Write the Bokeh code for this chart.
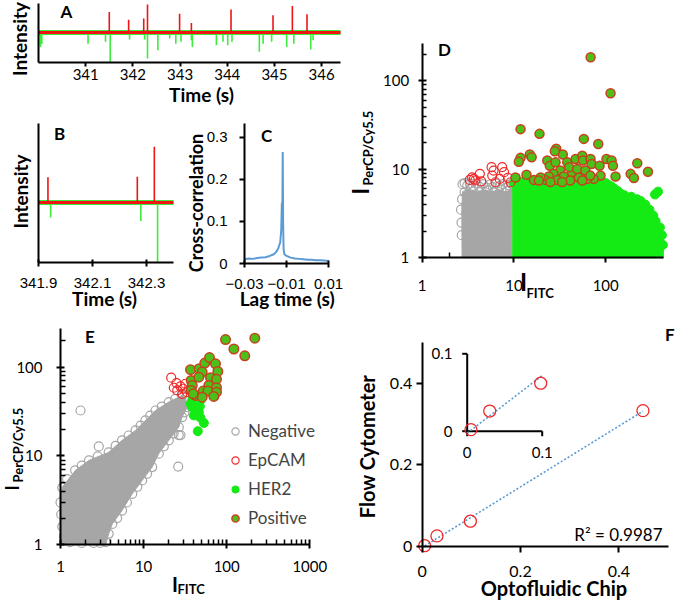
import math
import numpy as np
from bokeh.plotting import figure
from bokeh.models import (Range1d, FixedTicker, Label, Legend, LegendItem,
                          BasicTickFormatter, LinearAxis, LogAxis, LogScale, LinearScale)
from bokeh.embed import file_html
from bokeh.resources import INLINE

# ======================= DATA =======================
# Panel A : time trace (s), spike heights in relative intensity units
a_span = [340.0, 346.4]
a_red_t = [341.50, 341.91, 342.23, 342.31, 342.99, 343.24, 344.08, 344.97, 345.38, 345.69]
a_red_h = [0.69, 0.43, 0.47, 0.94, 0.63, 0.32, 0.77, 0.58, 0.89, 0.61]
a_green_t = [340.04, 340.07, 341.05, 341.42, 341.52, 341.93, 342.25, 342.31, 342.53, 342.78,
             342.91, 343.02, 343.24, 343.26, 343.77, 343.91, 344.01, 344.10, 344.68, 344.76,
             344.94, 345.26, 345.41, 345.77, 345.82]
a_green_d = [0.48, 0.38, 0.37, 0.31, 1.00, 0.23, 0.23, 0.87, 0.59, 0.20,
             0.37, 0.31, 0.26, 0.48, 0.42, 0.31, 0.42, 0.31, 0.64, 0.37,
             0.31, 0.48, 0.37, 0.57, 0.26]
a_xticks = [341, 342, 343, 344, 345, 346]

# Panel B : zoomed trace
b_span = [341.9, 342.4]
b_red_t = [341.935, 342.266, 342.329]
b_red_h = [0.42, 0.43, 0.93]
b_green_t = [341.945, 342.279, 342.341]
b_green_d = [0.25, 0.31, 1.00]
b_xticks = [341.9, 342.1, 342.3]

# Panel C : cross-correlation vs lag time
c_lag = [-0.030, -0.028, -0.026, -0.024, -0.022, -0.020, -0.018, -0.016, -0.015, -0.014,
         -0.013, -0.0125, -0.0122, -0.0120, -0.0118, -0.0116, -0.0114, -0.0110, -0.010, -0.008,
         -0.006, -0.004, -0.002, 0.000, 0.002, 0.004, 0.006, 0.008, 0.010]
c_corr = [0.010, 0.012, 0.011, 0.013, 0.014, 0.015, 0.018, 0.022, 0.027, 0.035,
          0.050, 0.080, 0.145, 0.110, 0.265, 0.100, 0.035, 0.022, 0.018, 0.014,
          0.012, 0.011, 0.010, 0.009, 0.009, 0.008, 0.008, 0.007, 0.006]
c_xticks = [-0.03, -0.01, 0.01]
c_yticks = [0, 0.1, 0.2, 0.3]

# Log ticks shared by D and E
log_major = [1, 10, 100]
log_major_e = [1, 10, 100, 1000]
log_minor = [2, 3, 4, 5, 6, 7, 8, 9, 20, 30, 40, 50, 60, 70, 80, 90,
             200, 300, 400, 500, 600, 700, 800, 900]
d_xminor = [2]

# Panel D : I_FITC vs I_PerCP/Cy5.5 (chip)
d_neg_patch_x = [2.72, 2.70, 2.75, 3.2, 4.0, 5.0, 6.0, 7.0, 8.0, 9.5, 9.5]
d_neg_patch_y = [1.0, 3.5, 5.6, 5.9, 5.6, 5.8, 5.5, 5.9, 5.6, 5.8, 1.0]
d_neg_edge_x = [2.75, 2.9, 3.1, 3.3, 3.6, 3.9, 4.2, 4.6, 5.0, 5.4, 5.9, 6.4, 7.0, 7.6, 8.2,
                8.8, 9.3, 2.65, 2.68, 2.70, 2.72, 2.9, 3.4, 4.4, 5.2, 6.2, 7.3, 8.5, 9.3, 9.4]
d_neg_edge_y = [6.8, 7.0, 6.6, 6.9, 6.5, 6.9, 6.4, 6.8, 6.2, 6.7, 6.3, 6.9, 6.5, 6.8, 6.2,
                6.6, 6.9, 3.5, 2.5, 1.8, 4.6, 5.5, 6.0, 5.6, 5.8, 5.5, 5.9, 5.7, 5.2, 4.0]
d_her_patch_x = [9.7, 9.7, 20, 40, 70, 92, 110, 125, 146, 180, 220, 260, 300, 340, 380, 410, 425, 425]
d_her_patch_y = [1.0, 6.9, 7.1, 7.1, 7.0, 6.8, 6.4, 5.8, 5.2, 4.9, 4.5, 4.0, 3.4, 2.8, 2.2, 1.7, 1.3, 1.0]
d_her_edge_x = [10, 12, 15, 18, 22, 27, 33, 40, 48, 57, 67, 78, 92, 100, 110, 118, 125, 135, 146, 160,
                190, 220, 240, 270, 300, 330, 350, 390, 410, 420, 372, 345]
d_her_edge_y = [7.0, 7.2, 7.0, 7.3, 7.1, 7.3, 7.0, 7.3, 7.1, 7.2, 7.0, 7.2, 6.9, 7.0, 6.6, 6.3, 6.0, 5.7, 5.3, 5.1,
                4.9, 4.6, 4.4, 4.0, 3.5, 3.0, 2.6, 2.2, 1.8, 1.4, 5.6, 5.2]
d_ep_x = [3.5, 3.66, 4.25, 3.8, 4.4, 5.7, 6.0, 5.8, 7.45, 7.8, 7.0, 8.6, 9.2, 6.3, 3.3]
d_ep_y = [8.1, 7.8, 8.9, 7.5, 7.3, 10.6, 9.7, 8.5, 10.6, 9.3, 7.8, 8.0, 7.15, 7.15, 7.6]
d_pos_x = [11.8, 19.0, 57.8, 83, 28.9, 14.9, 15.6, 11.8, 11.3, 34.1,
           27.9, 23.1, 24.6, 28.4, 38.1, 47.0, 55.6, 56.4, 68.4, 70.2,
           85.8, 102, 116, 120, 221, 187, 289, 203, 128, 88,
           74, 63, 51, 43, 40, 49, 60, 32, 27, 35,
           29.6, 24, 22, 19.5, 16.5, 13.7, 10.4, 18.7, 41, 55.6,
           68, 25, 33.6, 68.5, 113]
d_pos_y = [28.5, 25.2, 22.1, 19.4, 17.1, 14.7, 13.7, 13.5, 12.2, 14.7,
           16.0, 12.6, 11.0, 12.0, 12.0, 13.1, 14.3, 12.6, 13.1, 11.5,
           11.0, 13.1, 12.6, 11.0, 11.7, 8.9, 9.4, 8.0, 8.3, 8.5,
           7.8, 7.8, 8.1, 9.3, 10.6, 10.1, 9.7, 9.7, 8.9, 8.3,
           7.6, 8.3, 7.6, 8.1, 7.6, 8.7, 8.1, 7.5, 7.5, 7.5,
           8.5, 7.2, 7.2, 185, 72.4]

# Panel E : flow cytometer
e_neg_patch_x = [1.0, 1.0, 1.05, 1.51, 2.19, 3.81, 5.52, 8.0, 10.5, 13.9,
                 20.1, 29.1, 32.0, 33.4, 29.1, 26.5, 20.1, 15.2, 12.7, 9.6,
                 7.3, 5.5, 4.2, 3.8, 3.5, 1.26]
e_neg_patch_y = [1.0, 3.0, 4.45, 6.87, 8.9, 11.0, 15.0, 19.4, 25.1, 32.5,
                 40.4, 48.0, 45.0, 35.4, 27.4, 21.1, 15.0, 10.6, 7.5, 5.3,
                 3.75, 2.43, 1.72, 1.33, 1.0, 1.0]
e_neg_edge_x = [1.05, 1.2, 1.5, 1.8, 2.2, 2.8, 3.8, 4.6, 5.5, 6.6, 8.0, 9.2, 10.5, 12.0, 13.9,
                16.5, 20.1, 24.0, 29.1, 32.0,
                33.4, 31.0, 29.1, 26.5, 23.0, 20.1, 17.5, 15.2, 12.7, 11.0, 9.6, 8.4, 7.3, 6.3,
                5.5, 4.8, 4.2, 3.8, 3.5,
                1.0, 1.02, 1.05, 1.1, 1.3, 1.8, 2.5, 3.0,
                1.74, 2.89, 26.1, 27.8, 26.5]
e_neg_edge_y = [4.4, 5.5, 6.9, 7.8, 8.9, 9.9, 11.0, 13.0, 15.0, 17.0, 19.4, 22.0, 25.1, 28.5, 32.5,
                36.0, 40.4, 44.0, 48.0, 45.0,
                35.4, 31.0, 27.4, 21.1, 18.0, 15.0, 12.8, 10.6, 7.5, 6.3, 5.3, 4.5, 3.75, 3.0,
                2.43, 2.0, 1.72, 1.33, 1.07,
                3.0, 2.2, 1.6, 1.25, 1.07, 1.05, 1.05, 1.05,
                32.5, 12.8, 7.6, 17.2, 17.2]
e_ep_x = [21.5, 24.9, 27.8, 25.4, 29.9, 31.9, 23.1, 33.4, 29.1]
e_ep_y = [76, 66, 60.6, 54.7, 57.1, 65, 58.6, 52.3, 50.1]
e_her_x = [38.5, 44.2, 48.4, 42.1, 36.7, 46.2, 40.2, 48.4, 53.1, 44.9, 38.5, 47.5]
e_her_y = [35.4, 34, 42.2, 40.4, 38.7, 31.1, 28.6, 26.9, 23.5, 19, 43, 36.1]
e_pos_x = [96.8, 218, 122, 165, 36.7, 46.7, 54.5, 62.1, 73.3, 78.2,
           50.7, 63.8, 75.4, 60.9, 75.4, 37.4, 38.5, 37.4, 42.1, 52.1,
           59.3, 75.4, 70, 50.7, 39.5, 46.2]
e_pos_y = [204, 212, 160, 134, 93.5, 96, 111, 128, 109, 89.5,
           87.9, 76, 72.8, 62.3, 58.6, 70.8, 62.3, 54.7, 48, 53.7,
           53.7, 52.3, 46.8, 45.9, 50.1, 77.1]
legend_labels = ["Negative", "EpCAM", "HER2", "Positive"]

# Panel F : chip vs flow cytometer
f_chip = [0.005, 0.030, 0.098, 0.449]
f_flow = [0.002, 0.026, 0.062, 0.333]
f_ticks = [0, 0.2, 0.4]
inset_ticks = [0, 0.1]
r2_text = "R\u00b2 = 0.9987"

# ======================= STYLE =======================
W, H = 675, 600
FONT = "Lato"
ARIAL = "Liberation Sans"
RED = "#F01414"
GREEN_TR = "#3CEB3C"
GRAY = "#A6A6A6"
GREEN = "#14EB14"
POS_FILL = "#4CBF1A"
POS_LINE = "#C8401E"
EP_RED = "#F02828"
BLUE = "#5B9BD5"
HALF_PI = math.pi / 2

# One canvas; its default ranges are page pixels (y downwards) and are used
# only to place the texts.  Every panel gets its own ranges and axes.
p = figure(width=W, height=H, title=None,
           x_range=Range1d(0, W), y_range=Range1d(H, 0),
           x_axis_location=None, y_axis_location=None,
           output_backend="svg", toolbar_location=None,
           min_border_left=0, min_border_right=0, min_border_top=0, min_border_bottom=0)
p.outline_line_color = None
p.grid.visible = False


def _lerp(t, r, log):
    if log:
        a, b = math.log10(r[0]), math.log10(r[1])
        return 10 ** (a + t * (b - a))
    return r[0] + t * (r[1] - r[0])


class Panel:
    """Axes box (page px) showing data range xr x yr; own ranges on the canvas."""
    def __init__(self, name, box, xr, yr, xlog=False, ylog=False):
        self.left, self.top, self.bw, self.bh = box
        self.xr, self.yr, self.xlog, self.ylog = xr, yr, xlog, ylog
        self.nx, self.ny = name + "_x", name + "_y"
        x_at = lambda px: _lerp((px - self.left) / self.bw, xr, xlog)
        y_at = lambda py: _lerp((self.top + self.bh - py) / self.bh, yr, ylog)
        p.extra_x_ranges[self.nx] = Range1d(x_at(0), x_at(W))
        p.extra_y_ranges[self.ny] = Range1d(y_at(H), y_at(0))
        p.extra_x_scales[self.nx] = LogScale() if xlog else LinearScale()
        p.extra_y_scales[self.ny] = LogScale() if ylog else LinearScale()
        self.kw = dict(x_range_name=self.nx, y_range_name=self.ny)
        AX = LogAxis if xlog else LinearAxis
        AY = LogAxis if ylog else LinearAxis
        self.xaxis = AX(fixed_location=yr[0], bounds=(xr[0], xr[1]), **self.kw)
        self.yaxis = AY(fixed_location=xr[0], bounds=(yr[0], yr[1]), **self.kw)
        p.add_layout(self.xaxis, "below")
        p.add_layout(self.yaxis, "left")


def style_axis(ax, ticks, minor=(), font=FONT, size=15, tin=0, tout=4, mtin=0, mtout=0,
               standoff=6, overrides=None, formatter=None):
    lo, hi = min(ax.bounds), max(ax.bounds)
    ax.ticker = FixedTicker(ticks=list(ticks),
                            minor_ticks=[m for m in minor if lo <= m <= hi])
    if formatter is not None:
        ax.formatter = formatter
    ax.axis_line_width = 2
    ax.axis_line_color = "black"
    ax.major_tick_line_width = 2
    ax.major_tick_line_color = "black"
    ax.major_tick_in = tin
    ax.major_tick_out = tout
    ax.minor_tick_line_width = 1.5
    ax.minor_tick_line_color = "black"
    ax.minor_tick_in = mtin
    ax.minor_tick_out = mtout
    ax.major_label_text_font = font
    ax.major_label_text_font_size = f"{size}px"
    ax.major_label_text_color = "black"
    ax.major_label_standoff = standoff
    if overrides:
        ax.major_label_overrides = overrides


def put(text, px, py, size, bold=True, align="center", angle=0.0, font=FONT):
    """Text whose (cap) middle sits at page position (px, py)."""
    p.add_layout(Label(x=px, y=py, text=text, text_font=font,
                       text_font_size=f"{size}px",
                       text_font_style="bold" if bold else "normal",
                       text_align=align, text_baseline="middle", angle=angle,
                       text_color="black"))


def trace(pn, span, red_t, red_h, green_t, green_d):
    p.line(span, [0, 0], line_color=GREEN_TR, line_width=5, **pn.kw)
    p.segment(x0=green_t, y0=[0] * len(green_t), x1=green_t, y1=[-d for d in green_d],
              line_color=GREEN_TR, line_width=1.6, **pn.kw)
    p.line(span, [0, 0], line_color=RED, line_width=3, **pn.kw)
    p.segment(x0=red_t, y0=[0] * len(red_t), x1=red_t, y1=red_h,
              line_color=RED, line_width=1.6, **pn.kw)


# ----------------------------- A -----------------------------
A = Panel("A", (38, 3, 302, 59), (a_span[0], a_span[1]), (-1.0, 0.97))
trace(A, a_span, a_red_t, a_red_h, a_green_t, a_green_d)
style_axis(A.xaxis, a_xticks, size=15, tout=4, standoff=2)
style_axis(A.yaxis, [], tout=0)
put("A", 66, 10.5, 17)
put("Intensity", 18.5, 38.5, 19, angle=HALF_PI)
put("Time (s)", 201, 94, 19)

# ----------------------------- B -----------------------------
B = Panel("B", (38, 123, 135, 139), (b_span[0], b_span[1]), (-1.0, 1.317))
trace(B, b_span, b_red_t, b_red_h, b_green_t, b_green_d)
style_axis(B.xaxis, b_xticks, font=ARIAL, size=15, tin=3, tout=4, standoff=11)
style_axis(B.yaxis, [], tout=0)
put("B", 59, 133.3, 17)
put("Intensity", 19.5, 191, 19, angle=HALF_PI)
put("Time (s)", 104, 298, 19)

# ----------------------------- C -----------------------------
C = Panel("C", (244, 123, 84, 140), (-0.03, 0.01), (0.0, 0.333))
p.line(c_lag, c_corr, line_color=BLUE, line_width=2, **C.kw)
style_axis(C.xaxis, c_xticks, font=ARIAL, size=15, tin=3, tout=4, standoff=11)
style_axis(C.yaxis, c_yticks, font=ARIAL, size=15, tout=5, standoff=12,
           overrides={c_yticks[0]: "0"})
put("C", 266, 135, 17)
put("Cross-correlation", 195.5, 202.5, 18, angle=HALF_PI)
put("Lag time (s)", 286.7, 298, 19)

# ----------------------------- D -----------------------------
D = Panel("D", (421.7, 43, 241.6, 214.3), (1, 430), (1, 265), xlog=True, ylog=True)
p.patch(d_neg_patch_x, d_neg_patch_y, fill_color=GRAY, line_color=GRAY, **D.kw)
p.scatter(d_neg_edge_x, d_neg_edge_y, marker="circle", size=9, fill_color=None,
          line_color=GRAY, line_width=1.2, **D.kw)
p.patch(d_her_patch_x, d_her_patch_y, fill_color=GREEN, line_color=GREEN, **D.kw)
p.scatter(d_her_edge_x, d_her_edge_y, marker="circle", size=9, fill_color=GREEN,
          line_color=GREEN, **D.kw)
p.scatter(d_ep_x, d_ep_y, marker="circle", size=9, fill_color=None, line_color=EP_RED,
          line_width=1.2, **D.kw)
p.scatter(d_pos_x, d_pos_y, marker="circle", size=9, fill_color=POS_FILL,
          line_color=POS_LINE, line_width=1.5, **D.kw)
style_axis(D.xaxis, log_major, d_xminor, size=15, tout=5, mtin=5, standoff=17,
           formatter=BasicTickFormatter())
style_axis(D.yaxis, log_major, log_minor, size=15, tin=4, tout=4, mtin=4,
           standoff=9, formatter=BasicTickFormatter())
put("D", 444, 49, 17)
put("I", 519.5, 281, 24, align="left")
put("FITC", 526, 292, 13, align="left")
put("I", 360, 194, 22, align="left", angle=HALF_PI)
put("PerCP/Cy5.5", 367.5, 185, 13, align="left", angle=HALF_PI)

# ----------------------------- E -----------------------------
E = Panel("E", (60, 328.3, 249.3, 216), (1, 1000), (1, 270), xlog=True, ylog=True)
p.patch(e_neg_patch_x, e_neg_patch_y, fill_color=GRAY, line_color=GRAY, **E.kw)
r_neg = p.scatter(e_neg_edge_x, e_neg_edge_y, marker="circle", size=9, fill_color=None,
                  line_color=GRAY, line_width=1.2, **E.kw)
r_ep = p.scatter(e_ep_x, e_ep_y, marker="circle", size=9, fill_color=None,
                 line_color=EP_RED, line_width=1.2, **E.kw)
r_her = p.scatter(e_her_x, e_her_y, marker="circle", size=9, fill_color=GREEN,
                  line_color=GREEN, **E.kw)
r_pos = p.scatter(e_pos_x, e_pos_y, marker="circle", size=9.5, fill_color=POS_FILL,
                  line_color=POS_LINE, line_width=1.5, **E.kw)
style_axis(E.xaxis, log_major_e, log_minor, size=15, tin=5, tout=4, mtin=5,
           standoff=12, formatter=BasicTickFormatter())
style_axis(E.yaxis, log_major, log_minor, size=15, tin=4, tout=4, mtin=5,
           standoff=14, formatter=BasicTickFormatter())
legend = Legend(items=[LegendItem(label=lab, renderers=[r])
                       for lab, r in zip(legend_labels, [r_neg, r_ep, r_her, r_pos])],
                location=(226, 72), padding=0, margin=0, spacing=8,
                glyph_width=18, glyph_height=20, label_height=20, label_standoff=4,
                border_line_color=None, background_fill_alpha=0,
                label_text_font=FONT, label_text_font_size="17px")
p.add_layout(legend)
put("E", 89.5, 336, 17)
put("I", 171.5, 583.3, 20, align="left")
put("FITC", 177, 588.3, 13, align="left")
put("I", 11, 490, 18, align="left", angle=HALF_PI)
put("PerCP/Cy5.5", 17.5, 482, 13, align="left", angle=HALF_PI)

# ----------------------------- F -----------------------------
F = Panel("F", (421.7, 342, 245.8, 204), (0.0, 0.5), (0.0, 0.5))
slope, icpt = np.polyfit(f_chip, f_flow, 1)
fit_x = [min(f_chip), max(f_chip)]
p.line(fit_x, [slope * v + icpt for v in fit_x], line_color=BLUE, line_width=1.6,
       line_dash="2 2", **F.kw)
p.scatter(f_chip, f_flow, marker="circle", size=12, fill_color=None, line_color=EP_RED,
          line_width=1.3, **F.kw)
style_axis(F.xaxis, f_ticks, size=16, tout=6, standoff=13, overrides={f_ticks[0]: "0"})
style_axis(F.yaxis, f_ticks, size=16, tout=6, standoff=4, overrides={f_ticks[0]: "0"})

# inset of F : own ranges, its axes drawn as segments at the inset origin
inset_origin = (466.7, 430.7)      # page px of inset (0, 0)
inset_scale = (750.0, 774.0)       # px per unit
p.extra_x_ranges["I_x"] = Range1d(-inset_origin[0] / inset_scale[0],
                                  (W - inset_origin[0]) / inset_scale[0])
p.extra_y_ranges["I_y"] = Range1d((inset_origin[1] - H) / inset_scale[1],
                                  inset_origin[1] / inset_scale[1])
ins = dict(x_range_name="I_x", y_range_name="I_y")
tlen_x = 5 / inset_scale[0]
tlen_y = 5 / inset_scale[1]
ilim = inset_ticks[-1]
p.segment(x0=[0, 0], y0=[0, 0], x1=[ilim, 0], y1=[0, ilim], line_color="black",
          line_width=2, **ins)
p.segment(x0=inset_ticks, y0=[0] * 2, x1=inset_ticks, y1=[-tlen_y] * 2,
          line_color="black", line_width=2, **ins)
p.segment(x0=[0] * 2, y0=inset_ticks, x1=[-tlen_x] * 2, y1=inset_ticks,
          line_color="black", line_width=2, **ins)
p.line([0, ilim], [icpt, slope * ilim + icpt], line_color=BLUE, line_width=1.6,
       line_dash="2 2", **ins)
ins_n = 3
p.scatter(f_chip[:ins_n], f_flow[:ins_n], marker="circle", size=12, fill_color=None,
          line_color=EP_RED, line_width=1.3, **ins)
put("0.1", 452, 353.3, 15, bold=False, align="right")
put("0", 452, 430.7, 15, bold=False, align="right")
put("0", 466.7, 451.7, 15, bold=False)
put("0.1", 541.7, 451.7, 15, bold=False)

put("F", 674, 333.5, 17, align="right")
put("Flow Cytometer", 366.5, 446, 20, angle=HALF_PI)
put("Optofluidic Chip", 553.5, 587, 20)
put(r2_text, 662, 534, 17, bold=False, align="right")

open("out.html", "w").write(file_html(p, INLINE, title="Optofluidic chip figure"))
